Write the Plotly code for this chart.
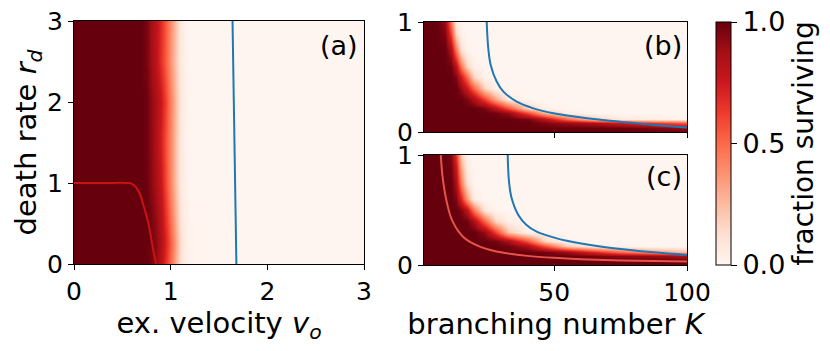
import plotly.graph_objects as go
from plotly.colors import sequential

INK = "black"
LINE_BLUE = "#1f77b4"
LINE_RED_A = "#c81414"
LINE_RED_C = "#e8534a"
FONT = "DejaVu Sans"

# ---- panel (a): death rate r_d vs ex. velocity v_o ----
A_V = [0, 0.3, 0.6, 0.7, 0.75, 0.8, 0.85, 0.9, 0.95, 1.0, 1.05, 1.1, 1.15, 1.2, 1.5, 2.0, 2.5, 3.0]
A_R = [0.0, 0.25, 0.5, 1.0, 1.5, 2.0, 2.5, 3.0]
A_Z = [
    [1, 1, 1, 1, 1, 0.96, 0.90, 0.80, 0.65, 0.48, 0.28, 0.12, 0.04, 0.01, 0, 0, 0, 0],
    [1, 1, 1, 1, 1, 0.98, 0.93, 0.84, 0.70, 0.52, 0.32, 0.15, 0.05, 0.01, 0, 0, 0, 0],
    [1, 1, 1, 1, 1, 0.97, 0.91, 0.82, 0.66, 0.48, 0.28, 0.12, 0.04, 0.01, 0, 0, 0, 0],
    [1, 1, 1, 1, 0.98, 0.93, 0.86, 0.76, 0.58, 0.40, 0.22, 0.09, 0.03, 0, 0, 0, 0, 0],
    [1, 1, 1, 1, 0.98, 0.92, 0.84, 0.72, 0.56, 0.40, 0.22, 0.09, 0.02, 0, 0, 0, 0, 0],
    [1, 1, 1, 1, 0.98, 0.92, 0.85, 0.76, 0.60, 0.42, 0.24, 0.10, 0.03, 0, 0, 0, 0, 0],
    [1, 1, 1, 1, 0.96, 0.88, 0.80, 0.66, 0.52, 0.36, 0.20, 0.08, 0.02, 0, 0, 0, 0, 0],
    [1, 1, 1, 1, 0.96, 0.87, 0.80, 0.68, 0.54, 0.38, 0.22, 0.09, 0.02, 0, 0, 0, 0, 0],
]
A_RED_V = [0, 0.3, 0.56, 0.6, 0.64, 0.68, 0.72, 0.77, 0.82, 0.85]
A_RED_R = [1.0, 1.0, 1.0, 0.99, 0.95, 0.87, 0.72, 0.50, 0.17, 0.0]
A_BLUE_V = [1.64, 1.68]
A_BLUE_R = [3.0, 0.0]

# ---- panels (b), (c): r_d vs branching number K ----
K_COLS = [1, 6, 9, 11, 13, 15, 17, 20, 24, 28, 33, 40, 47, 55, 65, 75, 88, 100]
R_ROWS = [0.0, 0.04, 0.08, 0.12, 0.17, 0.22, 0.3, 0.4, 0.5, 0.6, 0.75, 0.9, 1.0]

B_Z = [
    [1, 1, 1, 1, 1, 1, 1, 1, 1, 1, 1, 1, 1, 1, 1, 1, 1, 1],
    [1, 1, 1, 1, 1, 1, 1, 1, 1, 1, 1, 1, 1, 1, 1, 1, 0.95, 0.9],
    [1, 1, 1, 1, 1, 1, 1, 1, 1, 1, 1, 1, 0.95, 0.9, 0.85, 0.75, 0.65, 0.55],
    [1, 1, 1, 1, 1, 1, 1, 1, 1, 1, 1, 0.97, 0.8, 0.5, 0.2, 0.08, 0.04, 0.02],
    [1, 1, 1, 1, 1, 1, 1, 1, 1, 0.98, 0.9, 0.6, 0.25, 0.05, 0, 0, 0, 0],
    [1, 1, 1, 1, 1, 1, 1, 1, 0.95, 0.8, 0.55, 0.15, 0.02, 0, 0, 0, 0, 0],
    [1, 1, 1, 1, 1, 1, 0.95, 0.85, 0.6, 0.3, 0.05, 0, 0, 0, 0, 0, 0, 0],
    [1, 1, 1, 1, 1, 0.9, 0.75, 0.5, 0.15, 0.02, 0, 0, 0, 0, 0, 0, 0, 0],
    [1, 1, 1, 1, 0.95, 0.75, 0.5, 0.15, 0.02, 0, 0, 0, 0, 0, 0, 0, 0, 0],
    [1, 1, 1, 0.98, 0.8, 0.45, 0.15, 0.03, 0, 0, 0, 0, 0, 0, 0, 0, 0, 0],
    [1, 1, 1, 0.85, 0.45, 0.12, 0.02, 0, 0, 0, 0, 0, 0, 0, 0, 0, 0, 0],
    [1, 1, 0.95, 0.6, 0.15, 0.02, 0, 0, 0, 0, 0, 0, 0, 0, 0, 0, 0, 0],
    [1, 1, 0.9, 0.45, 0.08, 0, 0, 0, 0, 0, 0, 0, 0, 0, 0, 0, 0, 0],
]
B_BLUE_K = [24.6, 25.2, 26.1, 28.4, 30.9, 35.9, 42.2, 49.7, 62.3, 74.8, 87.4, 100]
B_BLUE_R = [1.0, 0.76, 0.61, 0.457, 0.367, 0.276, 0.215, 0.17, 0.125, 0.094, 0.064, 0.042]

C_Z = [
    [1, 1, 1, 1, 1, 1, 1, 1, 1, 1, 1, 1, 1, 1, 1, 1, 1, 1],
    [1, 1, 1, 1, 1, 1, 1, 1, 1, 1, 1, 1, 1, 1, 1, 1, 1, 1],
    [1, 1, 1, 1, 1, 1, 1, 1, 1, 1, 1, 1, 1, 1, 0.97, 0.93, 0.9, 0.85],
    [1, 1, 1, 1, 1, 1, 1, 1, 1, 1, 1, 1, 0.97, 0.9, 0.7, 0.5, 0.35, 0.25],
    [1, 1, 1, 1, 1, 1, 1, 1, 1, 1, 0.97, 0.85, 0.55, 0.2, 0.05, 0.02, 0, 0],
    [1, 1, 1, 1, 1, 1, 1, 1, 1, 0.97, 0.85, 0.55, 0.15, 0.02, 0, 0, 0, 0],
    [1, 1, 1, 1, 1, 1, 1, 1, 0.9, 0.6, 0.2, 0.02, 0, 0, 0, 0, 0, 0],
    [1, 1, 1, 1, 1, 1, 0.98, 0.85, 0.5, 0.15, 0.03, 0, 0, 0, 0, 0, 0, 0],
    [1, 1, 1, 1, 1, 0.95, 0.8, 0.45, 0.08, 0.01, 0, 0, 0, 0, 0, 0, 0, 0],
    [1, 1, 1, 1, 0.95, 0.7, 0.35, 0.05, 0, 0, 0, 0, 0, 0, 0, 0, 0, 0],
    [1, 1, 1, 1, 0.85, 0.45, 0.1, 0.01, 0, 0, 0, 0, 0, 0, 0, 0, 0, 0],
    [1, 1, 1, 0.97, 0.75, 0.3, 0.05, 0, 0, 0, 0, 0, 0, 0, 0, 0, 0, 0],
    [1, 1, 1, 0.95, 0.65, 0.2, 0.03, 0, 0, 0, 0, 0, 0, 0, 0, 0, 0, 0],
]
C_RED_K = [7.3, 8.0, 9.0, 10.8, 12, 13.9, 16, 18.3, 22, 26, 31, 40, 50, 60, 75, 100]
C_RED_R = [1.0, 0.8, 0.64, 0.457, 0.385, 0.308, 0.25, 0.21, 0.167, 0.136, 0.111, 0.083,
           0.065, 0.053, 0.042, 0.031]
C_BLUE_K = [32.5, 33, 34, 36.5, 39.6, 43.4, 51, 59.7, 72.3, 87.4, 100]
C_BLUE_R = [1.0, 0.757, 0.606, 0.455, 0.364, 0.303, 0.242, 0.197, 0.152, 0.115, 0.091]

REDS = [[i / (len(sequential.Reds) - 1), c] for i, c in enumerate(sequential.Reds)]

fig = go.Figure()

fig.add_trace(go.Heatmap(x=A_V, y=A_R, z=A_Z, coloraxis="coloraxis",
                         zsmooth="best", xaxis="x", yaxis="y", hoverinfo="skip"))
fig.add_trace(go.Scatter(x=A_RED_V, y=A_RED_R, mode="lines", line=dict(color=LINE_RED_A, width=2),
                         line_shape="spline", xaxis="x", yaxis="y", showlegend=False))
fig.add_trace(go.Scatter(x=A_BLUE_V, y=A_BLUE_R, mode="lines", line=dict(color=LINE_BLUE, width=2),
                         xaxis="x", yaxis="y", showlegend=False))

fig.add_trace(go.Heatmap(x=K_COLS, y=R_ROWS, z=B_Z, coloraxis="coloraxis",
                         zsmooth="best", xaxis="x2", yaxis="y2", hoverinfo="skip"))
fig.add_trace(go.Scatter(x=B_BLUE_K, y=B_BLUE_R, mode="lines", line=dict(color=LINE_BLUE, width=2),
                         line_shape="spline", xaxis="x2", yaxis="y2", showlegend=False))

fig.add_trace(go.Heatmap(x=K_COLS, y=R_ROWS, z=C_Z, coloraxis="coloraxis",
                         zsmooth="best", xaxis="x3", yaxis="y3", hoverinfo="skip"))
fig.add_trace(go.Scatter(x=C_RED_K, y=C_RED_R, mode="lines", line=dict(color=LINE_RED_C, width=2),
                         line_shape="spline", xaxis="x3", yaxis="y3", showlegend=False))
fig.add_trace(go.Scatter(x=C_BLUE_K, y=C_BLUE_R, mode="lines", line=dict(color=LINE_BLUE, width=2),
                         line_shape="spline", xaxis="x3", yaxis="y3", showlegend=False))

W, H = 830, 351
PAGE_PAD = 8  # default body margin of the html page


def px_x(p):
    return (p - PAGE_PAD) / W


def px_y(p):
    return 1 - (p - PAGE_PAD) / H


axis_style = dict(
    showline=True, mirror=True, linecolor=INK, linewidth=1,
    ticks="outside", ticklen=5, tickwidth=1, tickcolor=INK,
    showgrid=False, zeroline=False, automargin=False,
    ticklabeloverflow="allow",
    tickfont=dict(size=25, color=INK),
)
TITLE_FONT = dict(size=29, color=INK)

fig.update_layout(
    width=W, height=H,
    margin=dict(l=0, r=0, t=0, b=0),
    paper_bgcolor="white", plot_bgcolor="white",
    font=dict(family=FONT, color=INK, size=24),
    showlegend=False,
    coloraxis=dict(
        colorscale=REDS, cmin=0, cmax=1,
        colorbar=dict(
            x=px_x(716), xanchor="left", y=px_y(265), yanchor="bottom",
            len=243 / H, lenmode="fraction", thickness=15,
            xpad=0, ypad=0, outlinewidth=1, outlinecolor=INK,
            ticks="outside", ticklen=6, tickcolor=INK,
            ticklabeloverflow="allow",
            tickvals=[0, 0.5, 1], ticktext=["0.0", "0.5", "1.0"],
            tickfont=dict(size=27, color=INK),
            title=dict(text="fraction surviving", side="right", font=dict(size=28, color=INK)),
        ),
    ),
    xaxis=dict(axis_style, domain=[px_x(74), px_x(364)], range=[0, 3], tickvals=[0, 1, 2, 3],
               anchor="y", title=dict(text="ex. velocity <i>v<sub>o</sub></i>", standoff=0, font=TITLE_FONT)),
    yaxis=dict(axis_style, domain=[px_y(264), px_y(21)], range=[0, 3], tickvals=[0, 1, 2, 3],
               anchor="x", title=dict(text="death rate <i>r<sub>d</sub></i>", standoff=0, font=TITLE_FONT)),
    xaxis2=dict(axis_style, domain=[px_x(424), px_x(687)], range=[1, 100], tickvals=[50, 100],
                showticklabels=False, anchor="y2"),
    yaxis2=dict(axis_style, domain=[px_y(132), px_y(22)], range=[0, 1], tickvals=[0, 1], anchor="x2"),
    xaxis3=dict(axis_style, domain=[px_x(424), px_x(687)], range=[1, 100], tickvals=[50, 100],
                anchor="y3", title=dict(text="branching number <i>K</i>", standoff=0, font=TITLE_FONT)),
    yaxis3=dict(axis_style, domain=[px_y(265), px_y(155)], range=[0, 1], tickvals=[0, 1], anchor="x3"),
    annotations=[
        dict(text="(a)", x=px_x(360), y=px_y(45), xref="paper", yref="paper",
             xanchor="right", yanchor="middle", showarrow=False, font=dict(size=27)),
        dict(text="(b)", x=px_x(684), y=px_y(45), xref="paper", yref="paper",
             xanchor="right", yanchor="middle", showarrow=False, font=dict(size=27)),
        dict(text="(c)", x=px_x(684), y=px_y(177), xref="paper", yref="paper",
             xanchor="right", yanchor="middle", showarrow=False, font=dict(size=27)),
    ],
)

fig.write_html("out.html")
